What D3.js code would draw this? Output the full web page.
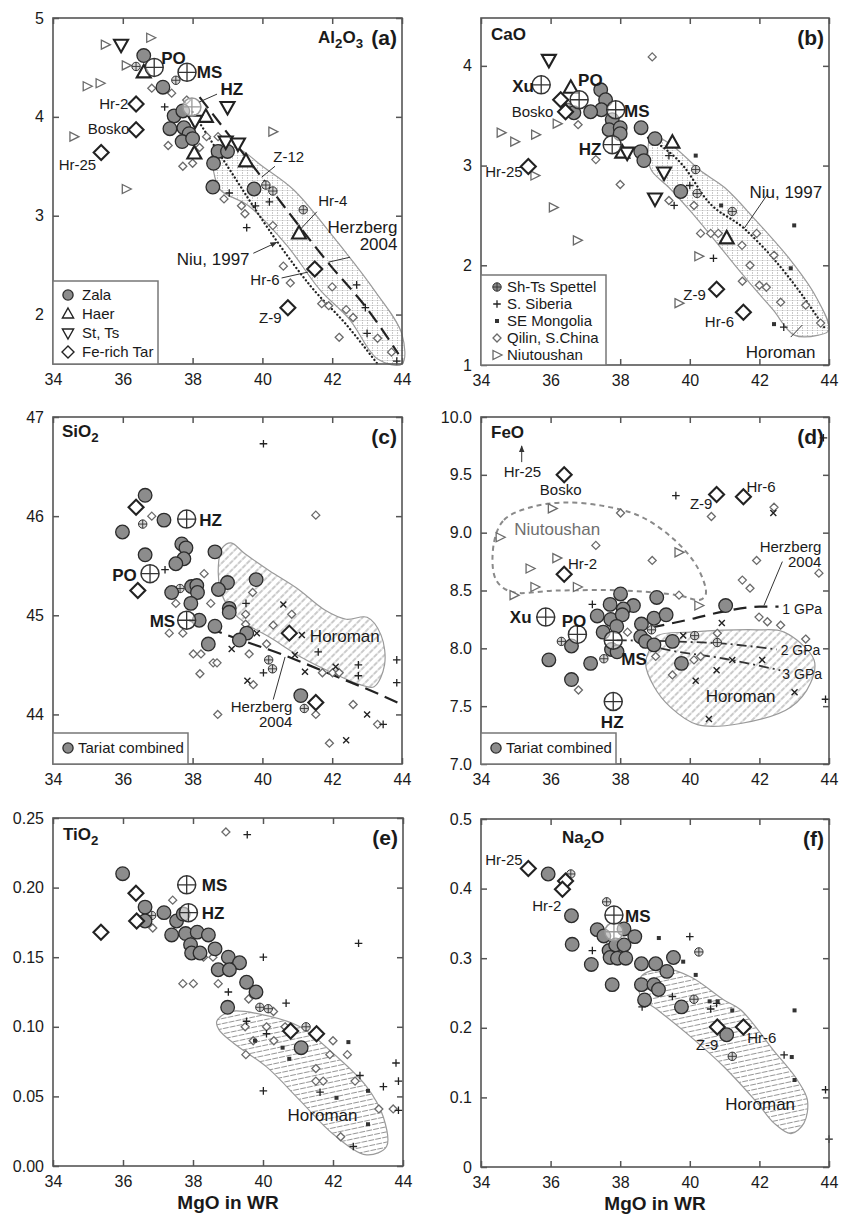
<!DOCTYPE html>
<html>
<head>
<meta charset="utf-8">
<script src="https://cdn.jsdelivr.net/npm/d3@7"></script>
<style>
  body { margin: 0; background: #fff; }
  svg text { font-family: "Liberation Sans", Arial, Helvetica, sans-serif; fill: #1a1a1a; }
</style>
</head>
<body>
<svg id="chart" width="848" height="1217"></svg>
<script>
// ---- shared axis values ----
const xTicks = [34, 36, 38, 40, 42, 44];

// ---- (a) Al2O3 ----
const aZala = [[36.6,4.62],[37.15,4.3],[37.47,4.01],[37.72,4.06],[37.35,3.88],[37.75,3.89],[37.9,3.83],[37.7,3.75],[38.0,3.78],[38.73,3.65],[39.0,3.65],[38.6,3.53],[38.58,3.29],[39.76,3.27]];
const aHaer = [[36.6,4.45],[38.38,4.0],[38.05,3.63],[39.53,3.55],[41.05,2.82]];
const aStTs = [[35.95,4.73],[39.0,4.1],[38.07,3.96],[38.95,3.75],[39.3,3.73]];
const aFeRich = [[36.38,4.13],[36.38,3.87],[35.38,3.64],[41.5,2.46],[40.73,2.07]];
const aSpettel = [[36.38,4.51],[37.52,4.37],[40.1,3.31],[40.3,3.25],[41.17,3.06]];
const aSib = [[37.2,4.1],[39.05,3.23],[39.55,2.88],[39.8,3.1],[40.2,3.14],[42.7,2.3],[42.95,2.07],[43.0,1.81],[43.85,1.53]];
const aQilin = [[36.83,4.29],[37.4,4.24],[37.3,3.71],[37.72,3.5],[38.0,3.53],[38.2,3.69],[38.73,3.8],[38.4,3.8],[37.83,4.17],[38.9,3.17],[39.4,3.1],[39.5,3.02],[40.3,2.9],[40.6,2.49],[40.8,2.32],[42.0,2.28],[41.7,2.11],[41.9,2.09],[42.4,2.05],[42.6,1.97],[42.2,1.77],[43.3,1.76],[43.7,1.62]];
const aNiu = [[35.5,4.73],[36.8,4.8],[36.1,4.52],[34.98,4.31],[35.35,4.34],[34.6,3.8],[40.3,3.85],[36.1,3.27]];
const aRef = [[36.9,4.5],[37.84,4.45]];
const aRefLight = [[37.98,4.1]];
const aHoroman = [[38.6,3.7],[39.3,3.68],[40.0,3.5],[40.9,3.26],[42.0,2.8],[43.2,2.25],[44.0,1.8],[44.0,1.5],[43.3,1.55],[42.5,1.95],[41.65,2.25],[40.7,2.7],[39.6,3.1],[38.8,3.26],[38.6,3.45]];
const aNiu1997 = [[38.0,4.05],[39.0,3.5],[40.4,2.75],[41.4,2.28],[42.4,1.9],[43.3,1.5]];
const aHerzberg = [[38.2,4.2],[40.0,3.38],[41.94,2.5],[43.0,2.06],[43.9,1.6]];

// ---- (b) CaO ----
const bZala = [[37.44,3.76],[37.58,3.66],[37.46,3.56],[36.67,3.53],[37.15,3.54],[37.77,3.46],[37.68,3.36],[38.0,3.38],[38.0,3.32],[38.6,3.38],[39.0,3.27],[38.59,3.14],[38.68,3.05],[39.74,2.74]];
const bHaer = [[36.58,3.78],[39.5,3.23],[38.06,3.13],[41.06,2.27]];
const bStTs = [[35.95,4.06],[39.26,2.93],[39.0,2.67],[38.2,3.13]];
const bFeRich = [[36.29,3.66],[36.43,3.54],[35.36,2.99],[40.77,1.76],[41.54,1.53]];
const bSpettel = [[40.17,2.96],[40.21,2.72],[41.22,2.54],[36.45,3.62]];
const bSib = [[39.55,2.6],[40.68,2.07],[42.7,1.38],[40.0,2.8],[39.4,3.1]];
const bMong = [[43.0,2.4],[42.42,1.41],[40.17,3.1],[40.9,2.6],[42.9,1.97]];
const bQilin = [[38.92,4.09],[36.79,3.41],[37.3,3.06],[38.0,2.81],[39.4,2.65],[40.12,2.6],[40.31,2.32],[40.6,2.32],[40.82,2.32],[41.5,2.2],[41.92,2.32],[41.73,2.0],[41.51,1.84],[42.0,1.8],[42.2,1.78],[42.42,2.1],[42.61,1.63],[43.33,1.6],[43.76,1.42]];
const bNiu = [[34.58,3.33],[34.97,3.24],[35.57,3.31],[36.19,3.42],[35.55,2.9],[36.08,2.58],[36.77,2.25],[40.26,2.09],[39.69,1.62]];
const bRef = [[35.73,3.81],[36.82,3.66],[37.87,3.56],[37.77,3.21]];
const bHoroman = [[38.9,3.3],[39.5,3.2],[40.3,2.95],[41.0,2.78],[41.9,2.45],[42.9,2.05],[43.6,1.7],[44.0,1.35],[43.7,1.3],[43.0,1.3],[42.4,1.55],[41.9,1.75],[41.3,2.0],[40.6,2.3],[40.0,2.55],[39.4,2.78],[38.9,2.95],[38.8,3.1]];
const bNiu1997 = [[38.8,3.28],[39.83,2.99],[40.5,2.65],[41.56,2.37],[42.42,2.06],[43.19,1.72],[43.86,1.38]];

// ---- (c) SiO2 ----
const cTariat = [[36.64,46.21],[37.18,45.96],[35.99,45.84],[36.64,45.61],[37.69,45.72],[37.81,45.68],[38.64,45.64],[37.75,45.57],[37.52,45.52],[39.82,45.36],[39.0,45.33],[38.74,45.26],[37.97,45.29],[38.12,45.3],[38.14,45.23],[37.4,45.23],[37.95,45.12],[39.05,45.07],[39.05,45.03],[38.19,44.95],[38.64,44.89],[39.55,44.82],[39.34,44.75],[38.45,44.71],[41.1,44.19]];
const cFeRich = [[36.38,46.09],[36.43,45.25],[40.77,44.82],[41.53,44.12]];
const cSpettel = [[36.57,45.92],[37.64,45.27],[40.18,44.55],[40.29,44.46],[41.2,44.06]];
const cSib = [[40.03,46.73],[37.21,45.46],[39.53,45.12],[40.03,44.42],[41.6,44.63],[42.75,44.5],[42.75,44.39],[43.85,44.55],[43.85,44.32],[43.46,43.9]];
const cMong = [[40.6,45.11],[41.13,44.8],[39.84,44.82],[40.93,44.6],[41.22,44.43],[43.0,44.0],[42.4,43.74],[39.57,44.34],[39.12,44.66],[42.1,44.48]];
const cQilin = [[36.83,46.0],[41.53,46.01],[38.33,45.42],[39.72,45.23],[37.52,45.12],[38.52,45.12],[37.33,44.82],[37.72,44.82],[39.52,45.01],[39.52,44.91],[40.84,45.01],[40.31,44.9],[38.02,44.61],[38.24,44.61],[38.59,44.52],[38.7,44.52],[38.21,44.41],[39.62,44.61],[39.74,44.3],[40.12,44.71],[41.72,44.42],[42.01,44.42],[42.2,44.42],[42.6,44.1],[41.53,44.0],[38.72,44.0],[41.92,43.71],[43.3,43.9]];
const cRef = [[37.83,45.97],[36.78,45.42],[37.83,44.95]];
const cHoroman = [[38.75,45.55],[38.85,45.68],[39.1,45.73],[39.5,45.62],[40.2,45.45],[41.0,45.27],[41.8,45.05],[42.4,44.96],[43.0,44.98],[43.4,44.8],[43.5,44.5],[43.2,44.28],[42.8,44.3],[42.0,44.42],[41.1,44.58],[40.2,44.78],[39.6,44.9],[39.1,45.05],[38.8,45.25]];
const cHerzberg = [[37.9,44.95],[39.0,44.8],[40.6,44.6],[42.0,44.4],[43.5,44.18],[44.0,44.1]];

// ---- (d) FeO ----
const dTariat = [[38.01,8.47],[39.05,8.44],[37.71,8.38],[38.38,8.37],[38.09,8.34],[37.34,8.28],[37.73,8.25],[38.06,8.29],[38.97,8.26],[39.32,8.29],[41.03,8.37],[37.9,8.19],[38.61,8.21],[37.51,8.14],[38.59,8.1],[38.73,8.06],[38.97,8.03],[39.5,8.06],[37.75,7.99],[37.91,7.97],[36.6,8.02],[35.95,7.9],[37.15,7.87],[39.76,7.87],[36.6,7.73]];
const dFeRich = [[36.39,9.5],[36.39,8.64],[40.77,9.33],[41.54,9.31]];
const dSpettel = [[36.31,8.06],[37.53,7.91],[38.9,8.16],[40.14,8.11],[40.79,8.05]];
const dSib = [[39.6,9.32],[43.84,9.82],[37.2,8.38],[43.9,7.56]];
const dMong = [[42.4,9.17],[40.92,8.22],[39.81,8.11],[41.22,7.9],[42.08,7.9],[40.77,7.81],[40.17,7.72],[43.01,7.62],[40.55,7.39]];
const dQilin = [[38.01,9.17],[40.62,9.14],[42.42,9.22],[37.3,8.89],[38.92,8.76],[41.92,8.76],[41.51,8.59],[41.73,8.52],[43.71,8.65],[39.69,8.46],[41.99,8.27],[42.23,8.23],[42.61,8.2],[43.33,8.08],[38.21,8.14],[36.8,7.64],[39.02,7.93],[39.5,7.77],[40.12,7.9],[40.31,7.93],[40.79,8.13]];
const dNiu = [[34.55,8.96],[36.05,9.21],[36.18,8.78],[35.41,8.69],[35.55,8.53],[36.77,8.53],[39.69,8.83],[34.95,8.46],[40.26,8.37]];
const dRef = [[35.86,8.27],[36.77,8.12],[37.8,8.07],[37.8,7.54]];
const dHoroman = [[38.88,8.01],[39.07,8.11],[40.03,8.14],[41.94,8.16],[42.71,8.14],[43.57,7.9],[43.47,7.7],[42.9,7.49],[41.46,7.35],[40.22,7.34],[39.45,7.49],[38.97,7.67],[38.73,7.87]];
const dNiutoushanField = [[34.37,8.91],[34.66,9.11],[35.43,9.22],[36.39,9.26],[37.53,9.23],[38.59,9.14],[39.55,8.94],[40.22,8.7],[40.46,8.47],[40.3,8.42],[39.64,8.46],[38.11,8.5],[36.19,8.5],[34.85,8.49],[34.42,8.6]];
const dGpa1 = [[38.9,8.18],[40.0,8.25],[41.0,8.32],[42.0,8.36],[42.55,8.36]];
const dGpa2 = [[37.9,8.07],[39.5,8.06],[41.0,8.04],[42.5,7.99]];
const dGpa3 = [[38.6,8.04],[39.3,7.99],[41.0,7.91],[42.6,7.81]];

// ---- (e) TiO2 ----
const eTariat = [[35.99,0.21],[36.63,0.186],[36.63,0.176],[37.17,0.182],[37.53,0.176],[37.72,0.181],[37.39,0.166],[37.79,0.167],[38.12,0.168],[38.44,0.166],[37.93,0.159],[37.96,0.153],[38.2,0.153],[38.63,0.156],[39.01,0.15],[39.33,0.146],[38.72,0.141],[39.04,0.141],[39.53,0.132],[39.8,0.125],[38.99,0.114],[41.09,0.085]];
const eFeRich = [[35.37,0.168],[36.37,0.196],[36.39,0.176],[40.79,0.097],[41.53,0.095]];
const eSpettel = [[36.82,0.18],[39.91,0.114],[40.15,0.113],[41.23,0.1]];
const eSib = [[39.55,0.238],[40.01,0.15],[42.73,0.16],[38.97,0.143],[39.01,0.125],[40.66,0.117],[40.01,0.054],[41.63,0.053],[42.77,0.065],[43.44,0.057],[43.8,0.074],[43.87,0.061],[43.87,0.04],[42.58,0.014],[39.53,0.104],[40.1,0.095]];
const eMong = [[42.44,0.089],[40.56,0.085],[40.75,0.077],[42.1,0.049],[43.0,0.054],[43.0,0.03],[39.77,0.09]];
const eQilin = [[38.94,0.24],[37.42,0.191],[36.85,0.171],[37.71,0.131],[38.01,0.131],[38.72,0.131],[38.3,0.15],[38.57,0.15],[39.59,0.12],[39.49,0.1],[39.72,0.09],[40.1,0.1],[40.31,0.09],[39.51,0.08],[40.63,0.1],[42.0,0.09],[41.91,0.08],[42.41,0.08],[41.51,0.07],[41.51,0.061],[41.72,0.061],[42.63,0.061],[43.31,0.041],[43.72,0.041],[42.22,0.021],[40.3,0.111]];
const eRef = [[37.82,0.202],[37.87,0.182]];
const eHoroman = [[38.68,0.104],[39.07,0.111],[40.11,0.108],[41.06,0.1],[42.0,0.081],[42.96,0.057],[43.44,0.035],[43.53,0.014],[42.96,0.008],[42.0,0.023],[41.06,0.047],[40.11,0.071],[39.17,0.088],[38.74,0.098]];

// ---- (f) Na2O ----
const fTariat = [[35.93,0.421],[36.6,0.361],[36.62,0.32],[37.34,0.341],[37.53,0.332],[38.11,0.342],[38.42,0.331],[37.68,0.311],[37.87,0.319],[38.11,0.319],[37.71,0.301],[37.92,0.3],[38.16,0.3],[37.17,0.291],[38.61,0.292],[39.02,0.292],[39.53,0.301],[39.34,0.281],[37.77,0.262],[38.61,0.262],[38.97,0.262],[39.1,0.255],[38.7,0.24],[39.76,0.23],[41.06,0.19]];
const fFeRich = [[35.36,0.429],[36.43,0.411],[36.34,0.399],[40.79,0.201],[41.54,0.201]];
const fSpettel = [[36.58,0.421],[37.61,0.381],[40.26,0.309],[40.12,0.241],[41.22,0.159]];
const fSib = [[37.2,0.311],[40.0,0.331],[38.63,0.23],[40.6,0.227],[40.77,0.235],[42.71,0.161],[43.9,0.111],[44.0,0.04],[39.5,0.245]];
const fMong = [[39.11,0.329],[39.81,0.295],[40.17,0.276],[40.57,0.238],[40.8,0.238],[41.22,0.225],[43.01,0.225],[42.93,0.158],[43.01,0.125]];
const fRef = [[37.82,0.362]];
const fRefLight = [[37.82,0.338]];
const fHoroman = [[38.59,0.273],[39.26,0.285],[40.03,0.273],[40.98,0.24],[41.46,0.226],[42.4,0.168],[43.09,0.125],[43.38,0.096],[43.28,0.063],[42.91,0.048],[42.42,0.063],[41.94,0.092],[40.98,0.144],[40.03,0.187],[39.07,0.226],[38.59,0.245]];

// ---- legend entries ----
const legendA = [["zala","Zala"],["haer","Haer"],["stts","St, Ts"],["ferich","Fe-rich Tar"]];
const legendB = [["spettel","Sh-Ts Spettel"],["sib","S. Siberia"],["mongSq","SE Mongolia"],["qilin","Qilin, S.China"],["niu","Niutoushan"]];
const legendT = [["zala","Tariat combined"]];

const svg = d3.select("#chart");
const defs = svg.append("defs");

// hatch patterns for the Horoman fields
const pGrid = defs.append("pattern").attr("id", "hatch-grid")
    .attr("patternUnits", "userSpaceOnUse").attr("width", 5).attr("height", 5);
pGrid.append("line").attr("x1", 2.5).attr("y1", 0).attr("x2", 2.5).attr("y2", 5)
    .attr("stroke", "#8a8a8a").attr("stroke-width", 0.9).attr("stroke-dasharray", "1,1.5");
pGrid.append("line").attr("x1", 0).attr("y1", 0.5).attr("x2", 5).attr("y2", 0.5)
    .attr("stroke", "#cfcfcf").attr("stroke-width", 0.6);

const pDiag = defs.append("pattern").attr("id", "hatch-diag")
    .attr("patternUnits", "userSpaceOnUse").attr("width", 6).attr("height", 6)
    .attr("patternTransform", "rotate(-45)");
pDiag.append("line").attr("x1", 0).attr("y1", 3).attr("x2", 6).attr("y2", 3)
    .attr("stroke", "#8a8a8a").attr("stroke-width", 0.9).attr("stroke-dasharray", "2.5,1");

const pHoriz = defs.append("pattern").attr("id", "hatch-horiz")
    .attr("patternUnits", "userSpaceOnUse").attr("width", 7).attr("height", 5)
    .attr("patternTransform", "rotate(-12)");
pHoriz.append("line").attr("x1", 0).attr("y1", 2.5).attr("x2", 7).attr("y2", 2.5)
    .attr("stroke", "#8a8a8a").attr("stroke-width", 0.9).attr("stroke-dasharray", "3,1.2");

defs.append("marker").attr("id", "arrow").attr("viewBox", "0 0 10 10")
    .attr("refX", 9).attr("refY", 5).attr("markerWidth", 7).attr("markerHeight", 7)
    .attr("orient", "auto-start-reverse")
  .append("path").attr("d", "M0,1 L10,5 L0,9 Z").attr("fill", "#333");

// one symbol at pixel position (px, py)
function mark(g, type, px, py, small) {
    const k = small ? 0.8 : 1;
    if (type === "zala") {
        g.append("circle").attr("cx", px).attr("cy", py).attr("r", 6.8 * (small ? 0.75 : 1))
            .attr("fill", "#8c8c8c").attr("stroke", "#2b2b2b").attr("stroke-width", 1.3);
    } else if (type === "haer" || type === "stts") {
        const s = type === "haer" ? 1 : -1;
        const pts = [[px, py - 7.5 * s * k], [px + 7 * k, py + 5 * s * k], [px - 7 * k, py + 5 * s * k]];
        g.append("path").attr("d", "M" + pts.join("L") + "Z")
            .attr("fill", "#fff").attr("stroke", "#222").attr("stroke-width", small ? 1.4 : 2.1);
    } else if (type === "ferich") {
        const s = 7.5 * k;
        g.append("path").attr("d", `M${px},${py - s}L${px + s},${py}L${px},${py + s}L${px - s},${py}Z`)
            .attr("fill", "#fff").attr("stroke", "#222").attr("stroke-width", small ? 1.4 : 2.1);
    } else if (type === "spettel") {
        g.append("circle").attr("cx", px).attr("cy", py).attr("r", 4.2)
            .attr("fill", small ? "#888" : "#d4d4d4").attr("stroke", "#333").attr("stroke-width", 1);
        g.append("path").attr("d", `M${px - 4.2},${py}H${px + 4.2}M${px},${py - 4.2}V${py + 4.2}`)
            .attr("stroke", "#333").attr("stroke-width", 0.9);
    } else if (type === "ref" || type === "refLight") {
        const c = type === "ref" ? "#333" : "#999";
        g.append("circle").attr("cx", px).attr("cy", py).attr("r", 9)
            .attr("fill", "rgba(255,255,255,0.55)").attr("stroke", c).attr("stroke-width", 1.5);
        g.append("path").attr("d", `M${px - 9},${py}H${px + 9}M${px},${py - 9}V${py + 9}`)
            .attr("stroke", c).attr("stroke-width", 1.3);
    } else if (type === "sib") {
        g.append("path").attr("d", `M${px - 3.8},${py}H${px + 3.8}M${px},${py - 3.8}V${py + 3.8}`)
            .attr("stroke", "#222").attr("stroke-width", 1.3);
    } else if (type === "mong") {
        g.append("path").attr("d", `M${px - 3},${py - 3}L${px + 3},${py + 3}M${px - 3},${py + 3}L${px + 3},${py - 3}`)
            .attr("stroke", "#222").attr("stroke-width", 1.4);
    } else if (type === "mongSq") {
        g.append("rect").attr("x", px - 2).attr("y", py - 2).attr("width", 4).attr("height", 4)
            .attr("fill", "#333");
    } else if (type === "qilin") {
        const s = 4;
        g.append("path").attr("d", `M${px},${py - s}L${px + s},${py}L${px},${py + s}L${px - s},${py}Z`)
            .attr("fill", "#fff").attr("stroke", "#6a6a6a").attr("stroke-width", 1.3);
    } else if (type === "niu") {
        g.append("path").attr("d", `M${px - 4},${py - 4.5}L${px + 5},${py}L${px - 4},${py + 4.5}Z`)
            .attr("fill", "#fff").attr("stroke", "#6a6a6a").attr("stroke-width", 1.3);
    }
}

// chemical formula with subscripts
function chem(t, str, size) {
    let sub = false;
    str.split(/(\d)/).filter(s => s).forEach(s => {
        const isDigit = /\d/.test(s);
        const ts = t.append("tspan").text(s);
        if (isDigit) { ts.attr("font-size", size * 0.78).attr("dy", size * 0.32); sub = true; }
        else if (sub) { ts.attr("dy", -size * 0.32); sub = false; }
    });
}

const lineStyles = {
    dot: { stroke: "#222", width: 2.3, dash: "0.1,3.8", cap: "round" },
    dash: { stroke: "#222", width: 2.2, dash: "14,7", cap: "butt" },
    gpa1: { stroke: "#222", width: 2.2, dash: "13,8", cap: "butt" },
    dashdot: { stroke: "#333", width: 1.8, dash: "10,4,2,4", cap: "butt" },
    field: { stroke: "#8a8a8a", width: 2, dash: "5,4", cap: "butt" }
};
const labelStyles = {
    b: { size: 17, weight: "bold", fill: "#1a1a1a" },
    n: { size: 15, weight: "normal", fill: "#1a1a1a" },
    h: { size: 17, weight: "normal", fill: "#1a1a1a" },
    g: { size: 17, weight: "normal", fill: "#6f6f6f" },
    s: { size: 14, weight: "normal", fill: "#1a1a1a" }
};

const panels = [
    { left: 53, top: 18, w: 349, h: 346, ydom: [1.5, 5], yticks: [2, 3, 4, 5], yfmt: d3.format("d"),
      title: "Al2O3", titleX: -39, titleAnchor: "end", titleY: 25, tag: "(a)",
      region: { pts: aHoroman, pattern: "hatch-grid" },
      lines: [{ pts: aNiu1997, style: "dot" }, { pts: aHerzberg, style: "dash" }],
      series: [["qilin", aQilin], ["niu", aNiu], ["sib", aSib], ["spettel", aSpettel], ["zala", aZala],
               ["haer", aHaer], ["stts", aStTs], ["ferich", aFeRich], ["ref", aRef], ["refLight", aRefLight]],
      labels: [["PO",37.1,4.6,"start","b"],["MS",38.12,4.45,"start","b"],["HZ",38.8,4.28,"start","b"],
               ["Hr-2",36.16,4.13,"end","n"],["Bosko",36.19,3.88,"end","n"],["Hr-25",34.7,3.52,"middle","n"],
               ["Z-12",40.31,3.6,"start","n"],["Hr-4",41.6,3.15,"start","n"],["Herzberg",43.87,2.89,"end","h"],
               ["2004",43.87,2.72,"end","h"],["Niu, 1997",38.59,2.56,"middle","h"],["Hr-6",40.49,2.35,"end","n"],
               ["Z-9",40.55,1.97,"end","n"]],
      leaders: [[38.7,4.23,38.19,4.15],[40.36,3.5,39.98,3.39],[41.56,3.04,41.08,2.86],[42.51,2.58,41.89,2.53],
                [39.74,2.62,40.41,2.73,true],[40.55,2.37,41.31,2.43]],
      legend: { items: legendA, x: 0, y: 263, w: 105, h: 83, first: 14, step: 19, sx: 15, tx: 29 } },
    { left: 481, top: 18, w: 348, h: 347, ydom: [1, 4.48], yticks: [1, 2, 3, 4], yfmt: d3.format("d"),
      title: "CaO", titleX: 10, titleAnchor: "start", titleY: 22, tag: "(b)",
      region: { pts: bHoroman, pattern: "hatch-grid" },
      lines: [{ pts: bNiu1997, style: "dot" }],
      series: [["qilin", bQilin], ["niu", bNiu], ["sib", bSib], ["mongSq", bMong], ["spettel", bSpettel], ["zala", bZala],
               ["haer", bHaer], ["stts", bStTs], ["ferich", bFeRich], ["ref", bRef]],
      labels: [["Xu",35.52,3.8,"end","b"],["PO",36.79,3.86,"start","b"],["MS",38.11,3.55,"start","b"],
               ["HZ",37.46,3.17,"end","b"],["Bosko",35.48,3.54,"middle","n"],["Hr-25",34.66,2.94,"middle","n"],
               ["Niu, 1997",42.76,2.74,"middle","h"],["Z-9",40.46,1.71,"end","n"],["Hr-6",41.27,1.44,"end","n"],
               ["Horoman",42.61,1.13,"middle","h"]],
      leaders: [[42.23,2.71,41.56,2.37],[42.9,1.28,43.23,1.4]],
      legend: { items: legendB, x: 0, y: 257, w: 125, h: 90, first: 12, step: 17, sx: 16, tx: 26 } },
    { left: 53, top: 417, w: 349, h: 347, ydom: [43.5, 47], yticks: [44, 45, 46, 47], yfmt: d3.format("d"),
      title: "SiO2", titleX: 9, titleAnchor: "start", titleY: 20, tag: "(c)",
      region: { pts: cHoroman, pattern: "hatch-diag" },
      lines: [{ pts: cHerzberg, style: "dash" }],
      series: [["qilin", cQilin], ["sib", cSib], ["mong", cMong], ["spettel", cSpettel], ["zala", cTariat],
               ["ferich", cFeRich], ["ref", cRef]],
      labels: [["HZ",38.19,45.96,"start","b"],["PO",36.4,45.41,"end","b"],["MS",37.5,44.94,"end","b"],
               ["Horoman",41.36,44.79,"start","h"],["Herzberg",40.86,44.08,"end","n"],["2004",40.86,43.93,"end","n"]],
      leaders: [[40.31,44.15,40.65,44.58]],
      legend: { items: legendT, x: 0, y: 316, w: 135, h: 31, first: 15, step: 0, sx: 15, tx: 25 } },
    { left: 481, top: 417, w: 348, h: 347, ydom: [7, 10], yticks: [7, 7.5, 8, 8.5, 9, 9.5, 10], yfmt: d3.format(".1f"),
      title: "FeO", titleX: 10, titleAnchor: "start", titleY: 21, tag: "(d)",
      region: { pts: dHoroman, pattern: "hatch-diag" },
      lines: [{ pts: dNiutoushanField, style: "field", closed: true }, { pts: dGpa1, style: "gpa1" },
              { pts: dGpa2, style: "dashdot" }, { pts: dGpa3, style: "dashdot" }],
      series: [["qilin", dQilin], ["niu", dNiu], ["sib", dSib], ["mong", dMong], ["spettel", dSpettel], ["zala", dTariat],
               ["ferich", dFeRich], ["ref", dRef]],
      labels: [["Xu",35.14,8.27,"middle","b"],["PO",36.67,8.24,"middle","b"],["MS",38.4,7.91,"middle","b"],
               ["HZ",37.77,7.36,"middle","b"],["Hr-25",35.19,9.53,"middle","n"],["Bosko",36.29,9.37,"middle","n"],
               ["Hr-2",36.5,8.73,"start","n"],["Z-9",40.65,9.25,"end","n"],["Hr-6",41.63,9.4,"start","n"],
               ["Niutoushan",36.19,9.03,"middle","g"],["Herzberg",43.78,8.88,"end","n"],["2004",43.78,8.75,"end","n"],
               ["1 GPa",42.66,8.34,"start","s"],["2 GPa",42.61,7.99,"start","s"],["3 GPa",42.66,7.78,"start","s"],
               ["Horoman",41.46,7.59,"middle","h"]],
      leaders: [[35.17,9.61,35.17,9.75,true],[42.66,8.75,42.13,8.37]],
      legend: { items: legendT, x: 0, y: 316, w: 135, h: 31, first: 15, step: 0, sx: 15, tx: 25 } },
    { left: 53, top: 818, w: 350, h: 348, ydom: [0, 0.25], yticks: [0, 0.05, 0.1, 0.15, 0.2, 0.25], yfmt: d3.format(".2f"),
      title: "TiO2", titleX: 10, titleAnchor: "start", titleY: 22, tag: "(e)",
      region: { pts: eHoroman, pattern: "hatch-horiz" },
      lines: [],
      series: [["qilin", eQilin], ["sib", eSib], ["mongSq", eMong], ["spettel", eSpettel], ["zala", eTariat],
               ["ferich", eFeRich], ["ref", eRef]],
      labels: [["MS",38.25,0.202,"start","b"],["HZ",38.25,0.182,"start","b"],["Horoman",41.7,0.037,"middle","h"]],
      leaders: [], xlabel: true },
    { left: 481, top: 819, w: 348, h: 348, ydom: [0, 0.5], yticks: [0, 0.1, 0.2, 0.3, 0.4, 0.5],
      yfmt: d => d === 0 ? "0" : d3.format(".1f")(d),
      title: "Na2O", titleX: 81, titleAnchor: "start", titleY: 24, tag: "(f)",
      region: { pts: fHoroman, pattern: "hatch-horiz" },
      lines: [],
      series: [["sib", fSib], ["mongSq", fMong], ["spettel", fSpettel], ["zala", fTariat],
               ["ferich", fFeRich], ["refLight", fRefLight], ["ref", fRef]],
      labels: [["MS",38.14,0.361,"start","b"],["Hr-25",34.66,0.442,"middle","n"],["Hr-2",35.89,0.375,"middle","n"],
               ["Z-9",40.5,0.176,"middle","n"],["Hr-6",41.65,0.186,"start","n"],["Horoman",42.02,0.09,"middle","h"]],
      leaders: [], xlabel: true }
];

function drawPanel(p) {
    const g = svg.append("g");
    const x = d3.scaleLinear().domain([34, 44]).range([p.left, p.left + p.w]);
    const y = d3.scaleLinear().domain(p.ydom).range([p.top + p.h, p.top]);

    // Horoman field
    const area = d3.line().x(d => x(d[0])).y(d => y(d[1])).curve(d3.curveCatmullRomClosed.alpha(0.5));
    g.append("path").attr("d", area(p.region.pts))
        .attr("fill", `url(#${p.region.pattern})`).attr("stroke", "#9a9a9a").attr("stroke-width", 1.2);

    // model lines
    p.lines.forEach(l => {
        const st = lineStyles[l.style];
        const gen = d3.line().x(d => x(d[0])).y(d => y(d[1]))
            .curve(l.closed ? d3.curveCatmullRomClosed.alpha(0.5) : d3.curveMonotoneX);
        g.append("path").attr("d", gen(l.pts)).attr("fill", "none")
            .attr("stroke", st.stroke).attr("stroke-width", st.width)
            .attr("stroke-dasharray", st.dash).attr("stroke-linecap", st.cap);
    });

    // symbols
    p.series.forEach(([type, data]) => {
        data.forEach(d => mark(g, type, x(d[0]), y(d[1])));
    });

    // leader lines
    p.leaders.forEach(l => {
        const ln = g.append("line").attr("x1", x(l[0])).attr("y1", y(l[1])).attr("x2", x(l[2])).attr("y2", y(l[3]))
            .attr("stroke", "#333").attr("stroke-width", 1);
        if (l[4]) ln.attr("marker-end", "url(#arrow)");
    });

    // labels
    p.labels.forEach(([t, lx, ly, anchor, kind]) => {
        const st = labelStyles[kind];
        g.append("text").attr("x", x(lx)).attr("y", y(ly)).attr("dy", "0.36em")
            .attr("text-anchor", anchor).attr("font-size", st.size).attr("font-weight", st.weight)
            .style("fill", st.fill).text(t);
    });

    // frame and axes
    g.append("rect").attr("x", p.left).attr("y", p.top).attr("width", p.w).attr("height", p.h)
        .attr("fill", "none").attr("stroke", "#555").attr("stroke-width", 1.6);

    const axes = [
        [d3.axisBottom(x).tickValues(xTicks).tickFormat(d3.format("d")).tickPadding(10), `translate(0,${p.top + p.h})`],
        [d3.axisTop(x).tickValues(xTicks).tickFormat(""), `translate(0,${p.top})`],
        [d3.axisLeft(y).tickValues(p.yticks).tickFormat(p.yfmt).tickPadding(9), `translate(${p.left},0)`],
        [d3.axisRight(y).tickValues(p.yticks).tickFormat(""), `translate(${p.left + p.w},0)`]
    ];
    axes.forEach(([ax, tr]) => {
        const ag = g.append("g").attr("transform", tr).call(ax.tickSizeInner(-6).tickSizeOuter(0));
        ag.select(".domain").remove();
        ag.selectAll(".tick line").attr("stroke", "#555").attr("stroke-width", 1.5);
        ag.selectAll(".tick text").attr("font-size", 16).attr("font-family", null).style("fill", "#1a1a1a");
    });

    // titles
    const tt = g.append("text").attr("font-size", 17).attr("font-weight", "bold")
        .attr("text-anchor", p.titleAnchor)
        .attr("x", p.titleAnchor === "end" ? p.left + p.w + p.titleX : p.left + p.titleX)
        .attr("y", p.top + p.titleY);
    chem(tt, p.title, 17);
    g.append("text").attr("x", p.left + p.w - 5).attr("y", p.top + 27).attr("text-anchor", "end")
        .attr("font-size", 21).attr("font-weight", "bold").text(p.tag);

    // legend
    if (p.legend) {
        const L = p.legend;
        const lg = g.append("g").attr("transform", `translate(${p.left + L.x},${p.top + L.y})`);
        lg.append("rect").attr("width", L.w).attr("height", L.h).attr("fill", "#fff")
            .attr("stroke", "#777").attr("stroke-width", 1.5);
        L.items.forEach(([type, name], i) => {
            const cy = L.first + i * L.step;
            mark(lg, type, L.sx, cy, true);
            lg.append("text").attr("x", L.tx).attr("y", cy).attr("dy", "0.36em")
                .attr("font-size", 15).text(name);
        });
    }

    if (p.xlabel) {
        g.append("text").attr("x", p.left + p.w / 2).attr("y", p.top + p.h + 43)
            .attr("text-anchor", "middle").attr("font-size", 19).attr("font-weight", "bold").text("MgO in WR");
    }
}

panels.forEach(drawPanel);
</script>
</body>
</html>
